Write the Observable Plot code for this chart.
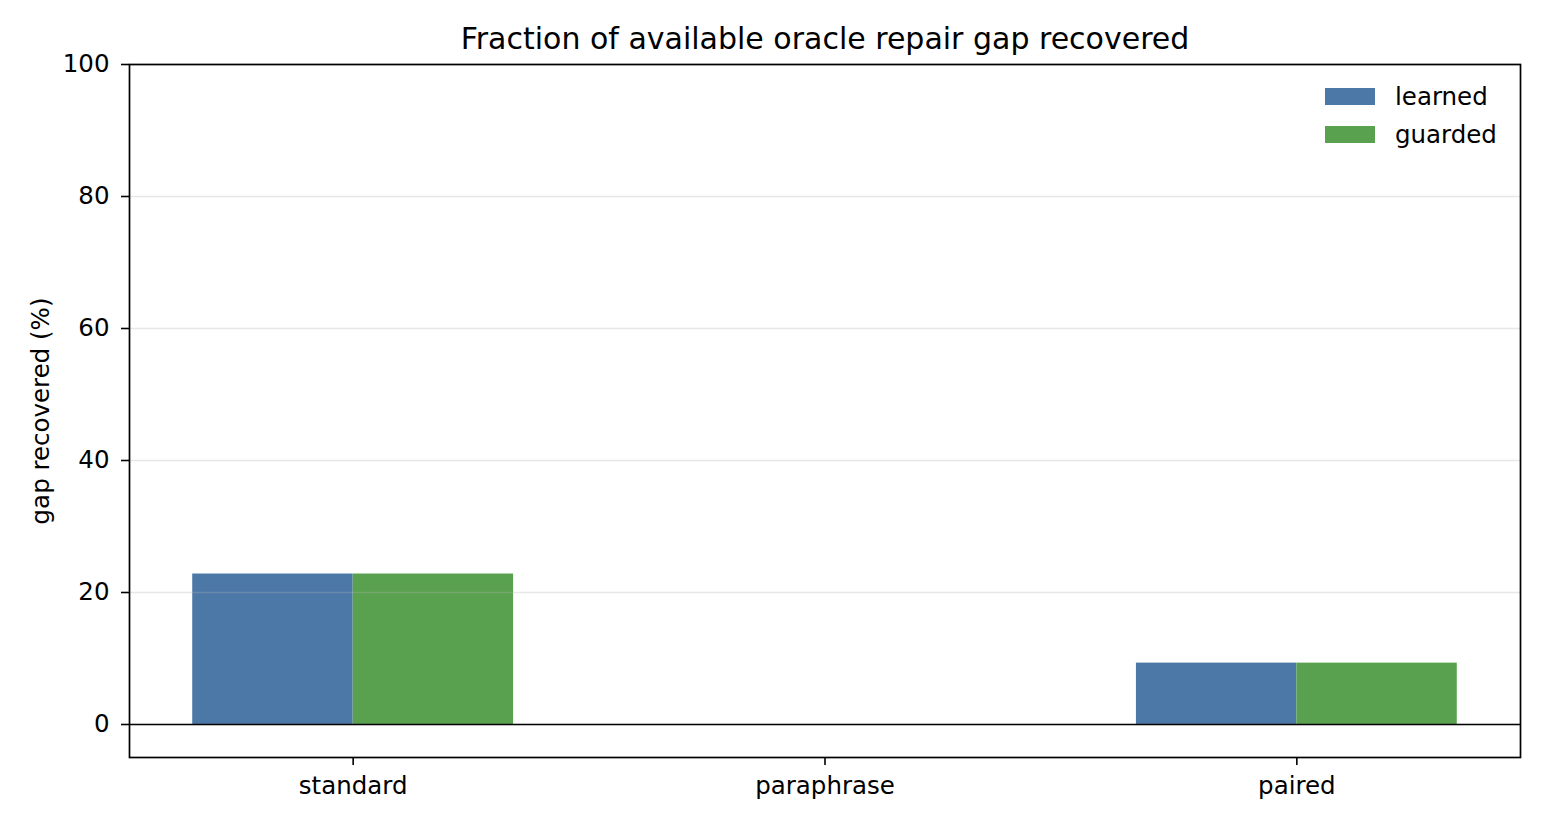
<!DOCTYPE html>
<html>
<head>
<meta charset="utf-8">
<script src="https://cdn.jsdelivr.net/npm/d3@7"></script>
<script src="https://cdn.jsdelivr.net/npm/@observablehq/plot@0.6"></script>
<style>
  html, body { margin: 0; padding: 0; background: white; }
  body { width: 1548px; height: 827px; position: relative; overflow: hidden; font-family: "DejaVu Sans", sans-serif; color: black; }
  #title { height: 50px; position: relative; }
  #title span { position: absolute; left: 129px; width: 1392px; text-align: center; top: 24px; line-height: 30px; font-size: 30px; }
  #legend { position: absolute; left: 1325px; top: 77px; font-size: 24.5px; }
  .item { display: flex; align-items: center; height: 38px; }
  .sw { width: 50px; height: 17px; margin-right: 20px; }
</style>
</head>
<body>
<div id="title"><span>Fraction of available oracle repair gap recovered</span></div>
<div id="chart"></div>
<div id="legend"></div>
<script>
const categories = ["standard", "paraphrase", "paired"];
const seriesNames = ["learned", "guarded"];
const learned = [22.8, 0, 9.3];
const guarded = [22.8, 0, 9.3];
const yTicks = [0, 20, 40, 60, 80, 100];
const colors = ["#4c78a8", "#59a14f"];
const barWidth = 0.34;

const rows = [];
categories.forEach((c, i) => {
  rows.push({cat: c, idx: i, series: "learned", value: learned[i]});
  rows.push({cat: c, idx: i, series: "guarded", value: guarded[i]});
});

const chart = Plot.plot({
  width: 1548,
  height: 777,
  marginTop: 14,
  marginBottom: 70,
  marginLeft: 129,
  marginRight: 28,
  style: {fontFamily: "DejaVu Sans", fontSize: "24.5px", color: "black", background: "white"},
  x: {domain: [-0.474, 2.474]},
  y: {domain: [-5, 100]},
  color: {domain: seriesNames, range: colors},
  marks: [
    Plot.rectY(rows, {
      x1: d => d.series === "learned" ? d.idx - barWidth : d.idx,
      x2: d => d.series === "learned" ? d.idx : d.idx + barWidth,
      y1: 0,
      y2: "value",
      fill: "series"
    }),
    Plot.gridY(yTicks, {stroke: "#b0b0b0", strokeOpacity: 0.3, strokeWidth: 1.6}),
    Plot.ruleY([0], {stroke: "black", strokeWidth: 1.7}),
    Plot.frame({stroke: "black", strokeWidth: 1.7}),
    Plot.axisX(categories.map((c, i) => i), {
      tickFormat: i => categories[i],
      tickSize: 8, tickPadding: 11, strokeWidth: 1.6, label: null
    }),
    Plot.axisY(yTicks, {
      tickSize: 8, tickPadding: 12, strokeWidth: 1.6,
      label: "gap recovered (%)", labelAnchor: "center", labelArrow: "none", labelOffset: 98
    })
  ]
});
document.getElementById("chart").appendChild(chart);

const legend = document.getElementById("legend");
seriesNames.forEach((s, i) => {
  const item = document.createElement("div");
  item.className = "item";
  const sw = document.createElement("div");
  sw.className = "sw";
  sw.style.background = colors[i];
  const tx = document.createElement("span");
  tx.textContent = s;
  item.appendChild(sw);
  item.appendChild(tx);
  legend.appendChild(item);
});
</script>
</body>
</html>
